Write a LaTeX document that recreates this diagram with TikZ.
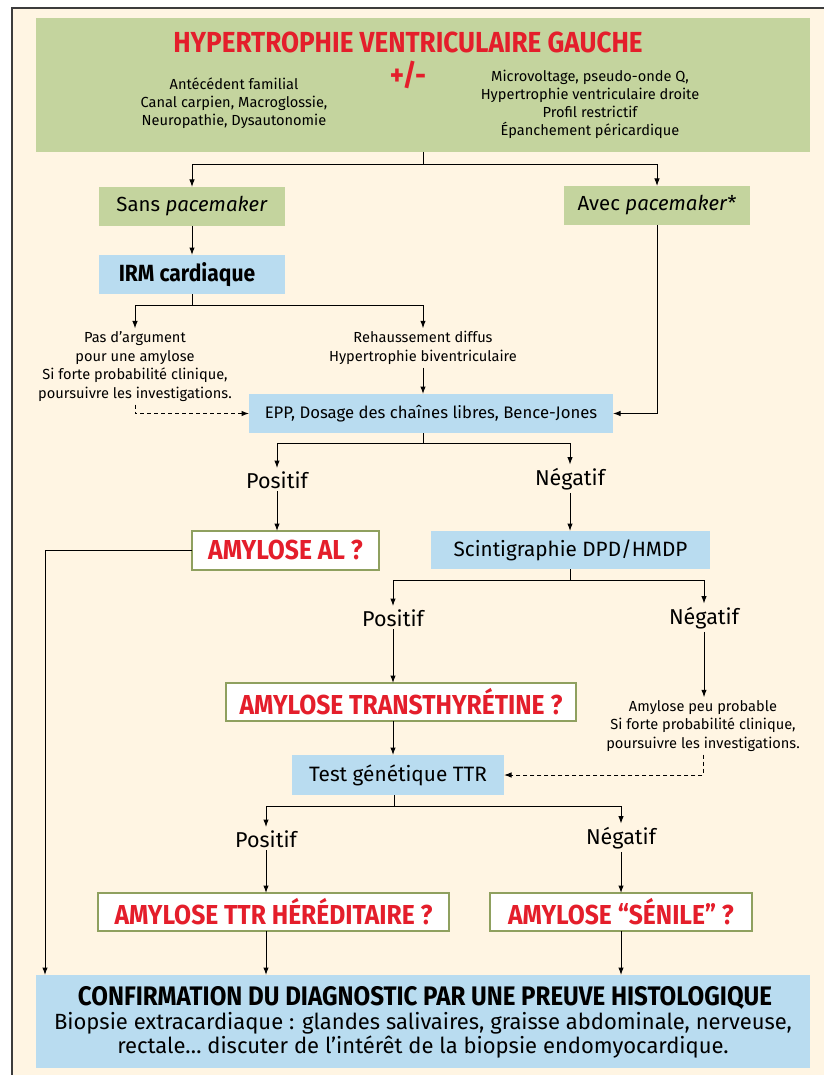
\documentclass[tikz,border=0pt]{standalone}
\usepackage{fontspec}
\setmainfont{Fira Sans}
\newfontfamily\cnd[FakeStretch=0.9]{Fira Sans}
\usetikzlibrary{arrows.meta,calc}
\definecolor{cream}{RGB}{255,245,227}
\definecolor{cgreen}{RGB}{196,212,158}
\definecolor{cblue}{RGB}{185,220,240}
\definecolor{cred}{RGB}{228,30,43}
\definecolor{colive}{RGB}{143,160,95}
\definecolor{cframe}{RGB}{60,60,60}
\newcommand{\fsz}[2]{\fontsize{#1}{#2}\selectfont}
\tikzset{
  box/.style={inner sep=0pt, outer sep=0pt, align=center},
  gbox/.style={box, fill=cgreen},
  bbox/.style={box, fill=cblue},
  rbox/.style={box, fill=white, draw=colive, line width=1.6pt, text=cred, font=\cnd\bfseries\fsz{27.4}{30}},
  txt/.style={inner sep=3pt, align=center},
  ln/.style={line width=1pt},
  arr/.style={ln, -{Latex[length=7.5pt,width=5.5pt]}},
  dsh/.style={arr, dash pattern=on 4pt off 3pt},
}
\begin{document}
\begin{tikzpicture}[x=1pt,y=-1pt]
\useasboundingbox (0,0) rectangle (824,1075);
\fill[white] (0,0) rectangle (824,1075);
\fill[cream] (12,9) rectangle (824,1075);
\draw[cframe, line width=2pt] (11.5,1075) -- (11.5,8) -- (824,8);

% top box
\node[gbox, minimum width=774pt, minimum height=134pt] (hvg) at (423,85) {};
\node[txt, text=cred, font=\cnd\bfseries\fsz{29}{32}] (hvgt) at (408,42) {HYPERTROPHIE VENTRICULAIRE GAUCHE};
\node[txt, text=cred, font=\cnd\bfseries\fsz{30}{32}] (pm) at (408,75) {+/-};
\node[txt, font=\fsz{14.6}{18}] (hvgl) at (234,103.5) {Antécédent familial\\Canal carpien, Macroglossie,\\Neuropathie, Dysautonomie};
\node[txt, font=\fsz{14.6}{18}] (hvgr) at (590,104) {Microvoltage, pseudo-onde Q,\\Hypertrophie ventriculaire droite\\Profil restrictif\\Épanchement péricardique};

\node[gbox, minimum width=186pt, minimum height=39pt, font=\fsz{20.4}{22}] (sans) at (192,206.5) {Sans \textit{pacemaker}};
\node[gbox, minimum width=186pt, minimum height=39pt, font=\fsz{20.4}{22}] (avec) at (657,205.5) {Avec \textit{pacemaker}*};
\node[bbox, minimum width=186pt, minimum height=39pt, font=\cnd\bfseries\fsz{23.4}{25}] (irm) at (192,274.5) {IRM cardiaque\hspace*{10pt}};

\node[txt, font=\fsz{14.6}{18.5}] (noarg) at (135,366.5) {Pas d’argument\\pour une amylose\\Si forte probabilité clinique,\\poursuivre les investigations.};
\node[txt, font=\fsz{14.6}{18.5}] (rehauss) at (423,348) {Rehaussement diffus\\Hypertrophie biventriculaire};

\node[bbox, minimum width=364pt, minimum height=39pt, font=\fsz{16.7}{20}] (epp) at (431,413.5) {EPP, Dosage des chaînes libres, Bence-Jones};

\node[txt, anchor=base, font=\fsz{21.5}{23}] (pos1) at (277,488) {Positif};
\node[txt, anchor=base, font=\fsz{21.5}{23}] (neg1) at (570,485) {Négatif};

\node[rbox, minimum width=187pt, minimum height=39pt] (al) at (285.5,550.5) {AMYLOSE AL ?};
\node[bbox, minimum width=279pt, minimum height=38pt, font=\fsz{20.7}{22}] (scint) at (570.5,550) {Scintigraphie DPD/HMDP};

\node[txt, anchor=base, font=\fsz{21.5}{23}] (pos2) at (393,626) {Positif};
\node[txt, anchor=base, font=\fsz{21.5}{23}] (neg2) at (704,624) {Négatif};

\node[rbox, minimum width=350pt, minimum height=38pt] (ttr) at (401,702) {AMYLOSE TRANSTHYRÉTINE ?};
\node[txt, font=\fsz{14.6}{18.5}] (peu) at (703,726) {Amylose peu probable\\Si forte probabilité clinique,\\poursuivre les investigations.};

\node[bbox, minimum width=212pt, minimum height=40pt, font=\fsz{20.8}{22}] (test) at (398,775) {Test génétique TTR};

\node[txt, anchor=base, font=\fsz{21.5}{23}] (pos3) at (266,847) {Positif};
\node[txt, anchor=base, font=\fsz{21.5}{23}] (neg3) at (621,844) {Négatif};

\node[rbox, minimum width=351pt, minimum height=38pt] (hered) at (273.5,912) {AMYLOSE TTR HÉRÉDITAIRE ?};
\node[rbox, minimum width=262pt, minimum height=38pt] (senile) at (621,912) {AMYLOSE “SÉNILE” ?};

\node[bbox, minimum width=774pt, minimum height=93pt] (conf) at (423,1021.5) {};
\node[txt, font=\cnd\bfseries\fsz{26.8}{28}] (conft) at (425,998) {CONFIRMATION DU DIAGNOSTIC PAR UNE PREUVE HISTOLOGIQUE};
\node[txt, font=\fsz{22}{23.5}] (confb) at (423,1035) {Biopsie extracardiaque : glandes salivaires, graisse abdominale, nerveuse,\\rectale… discuter de l’intérêt de la biopsie endomyocardique.};

% connectors
\draw[ln] (hvg.south) -- ++(0,13) coordinate (j1);
\draw[arr] (j1) -| (sans.north);
\draw[arr] (j1) -| (avec.north);
\draw[arr] (sans) -- (irm);
\draw[ln] (irm.south) -- ++(0,11) coordinate (j2);
\draw[arr] (j2) -| (noarg.north);
\draw[arr] (j2) -| (rehauss.north);
\draw[arr] (rehauss.south) -- (rehauss.south |- epp.north);
\draw[dsh] (noarg.south) |- (epp.west);
\draw[arr] (avec.south) |- (epp.east);
\draw[ln] ([xshift=-8pt]epp.south) -- ++(0,10) coordinate (j3);
\draw[arr] (j3) -| (pos1.north);
\draw[arr] (j3) -| (neg1.north);
\draw[arr] (pos1.south) -- (pos1.south |- al.north);
\draw[arr] (neg1.south) -- (neg1.south |- scint.north);
\draw[arr] (al.west) -| ([xshift=9pt]conf.north west);
\draw[ln] (scint.south) -- ++(0,11) coordinate (j4);
\draw[arr] (j4) -| (pos2.north);
\draw[arr] (j4) -| (neg2.north);
\draw[arr] (pos2.south) -- (pos2.south |- ttr.north);
\draw[arr] (neg2.south) -- (neg2.south |- peu.north);
\draw[dsh] (peu.south) |- (test.east);
\draw[arr] (pos2.south |- ttr.south) -- (pos2.south |- test.north);
\draw[ln] ([xshift=-4pt]test.south) -- ++(0,11) coordinate (j5);
\draw[arr] (j5) -| (pos3.north);
\draw[arr] (j5) -| (neg3.north);
\draw[arr] (pos3.south) -- (pos3.south |- hered.north);
\draw[arr] (neg3.south) -- (neg3.south |- senile.north);
\draw[arr] (pos3.south |- hered.south) -- (pos3.south |- conf.north);
\draw[arr] (neg3.south |- senile.south) -- (neg3.south |- conf.north);
\end{tikzpicture}
\end{document}
